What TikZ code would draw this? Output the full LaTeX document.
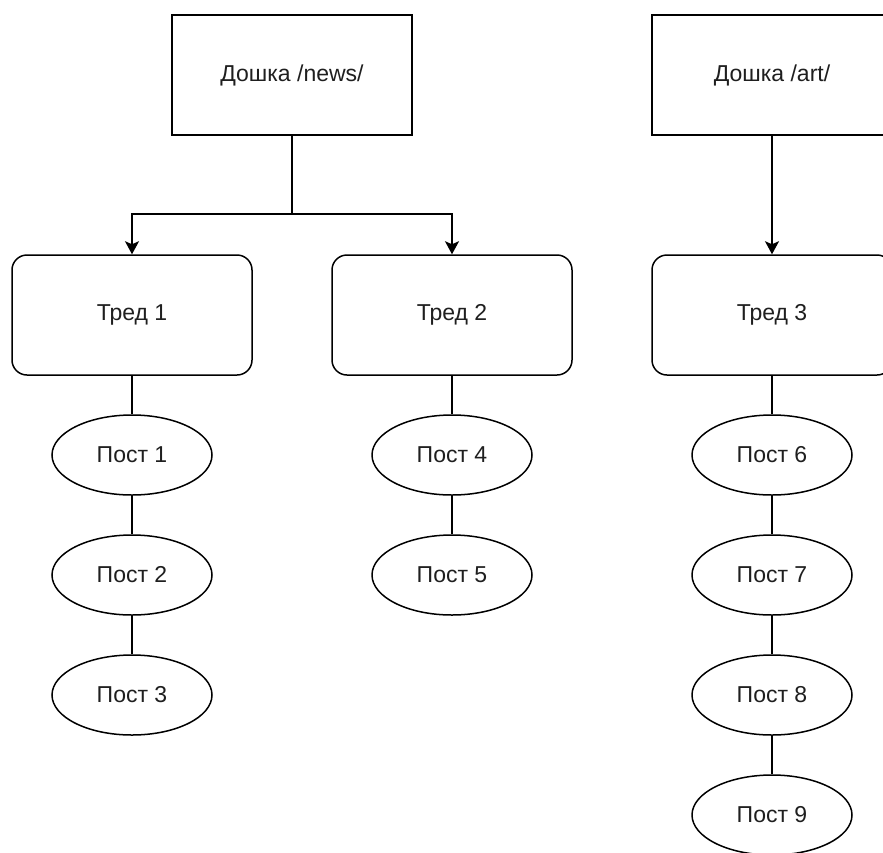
\documentclass[tikz,border=0pt]{standalone}
\usepackage{fontspec}
\setmainfont{Liberation Sans}
\usetikzlibrary{shapes.geometric,arrows.meta}
\tikzset{
  base/.style={draw=black, line width=1.5pt, inner sep=0pt, font=\fontsize{23}{27}\selectfont, text=black!88},
  board/.style={base, rectangle, minimum width=240pt, minimum height=120pt},
  thread/.style={base, rectangle, rounded corners=15pt, minimum width=240pt, minimum height=120pt},
  post/.style={base, ellipse, minimum width=160pt, minimum height=80pt},
  link/.style={line width=1.5pt, draw=black},
  arrowlink/.style={link, -{Stealth[length=13pt,width=14pt,inset=3pt]}}
}
\begin{document}
\begin{tikzpicture}[x=1pt,y=-1pt]
\useasboundingbox (0,0) rectangle (883,852);
\clip (0,0) rectangle (883,852);
\fill[white] (0,0) rectangle (883,852);

% boards
\node[board] (news) at (292,75) {Дошка /news/};
\node[board] (art) at (772,75) {Дошка /art/};

% threads
\node[thread] (t1) at (132,315) {Тред 1};
\node[thread] (t2) at (452,315) {Тред 2};
\node[thread] (t3) at (772,315) {Тред 3};

% posts
\node[post] (p1) at (132,455) {Пост 1};
\node[post] (p2) at (132,575) {Пост 2};
\node[post] (p3) at (132,695) {Пост 3};
\node[post] (p4) at (452,455) {Пост 4};
\node[post] (p5) at (452,575) {Пост 5};
\node[post] (p6) at (772,455) {Пост 6};
\node[post] (p7) at (772,575) {Пост 7};
\node[post] (p8) at (772,695) {Пост 8};
\node[post] (p9) at (772,815) {Пост 9};

% board -> thread arrows
\draw[arrowlink] (news.south) -- ++(0,78) coordinate (fork) -| (t1.north);
\draw[arrowlink] (fork) -| (t2.north);
\draw[arrowlink] (art.south) -- (t3.north);

% thread -> post chains
\draw[link] (t1.south) -- (p1.north);
\draw[link] (p1.south) -- (p2.north);
\draw[link] (p2.south) -- (p3.north);
\draw[link] (t2.south) -- (p4.north);
\draw[link] (p4.south) -- (p5.north);
\draw[link] (t3.south) -- (p6.north);
\draw[link] (p6.south) -- (p7.north);
\draw[link] (p7.south) -- (p8.north);
\draw[link] (p8.south) -- (p9.north);
\end{tikzpicture}
\end{document}
